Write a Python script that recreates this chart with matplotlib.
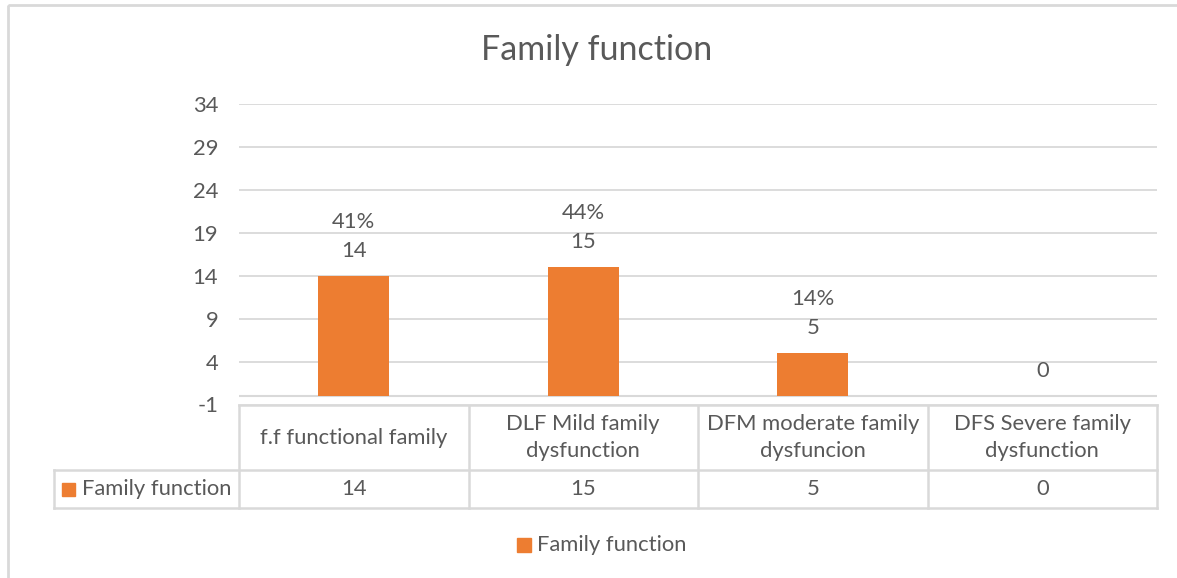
import matplotlib.pyplot as plt
import numpy as np
from matplotlib.patches import Rectangle

# chart data
categories = ["f.f functional family", "DLF Mild family\ndysfunction",
              "DFM moderate family\ndysfuncion", "DFS Severe family\ndysfunction"]
counts = [14, 15, 5, 0]
percent_labels = ["41%", "44%", "14%", ""]
series_name = "Family function"
chart_title = "Family function"
yticks = np.arange(-1, 35, 5)

# styling
orange = "#ED7D31"
grid_col = "#D9D9D9"
text_col = "#595959"
plt.rcParams['font.family'] = ['Lato', 'DejaVu Sans']
plt.rcParams['axes.unicode_minus'] = False
body_size = 15.8

W, H = 1177, 578
fig = plt.figure(figsize=(W / 100, H / 100), dpi=100)

# plot area in pixels
p_left, p_right = 239, 1157
p_top, p_bottom = 104, 404.5
ax = fig.add_axes([p_left / W, 1 - p_bottom / H,
                   (p_right - p_left) / W, (p_bottom - p_top) / H])

x = np.arange(len(categories))
ax.bar(x, counts, width=0.31, color=orange, zorder=3)
ax.set_xlim(-0.5, len(categories) - 0.5)
ax.set_ylim(yticks[0], yticks[-1])
ax.set_yticks(yticks)
ax.set_xticks([])
ax.grid(axis='y', color=grid_col, linewidth=1.3, zorder=0)
ax.axhline(0, color=grid_col, linewidth=1.5, zorder=2)
for s in ax.spines.values():
    s.set_visible(False)
ax.tick_params(axis='y', length=0, pad=15, labelsize=body_size, labelcolor=text_col)

# value and percentage labels above bars
for xi, c, p in zip(x, counts, percent_labels):
    ax.annotate(str(c), (xi, c), xytext=(0, 25), textcoords='offset pixels',
                ha='center', va='center', fontsize=body_size, color=text_col)
    if p:
        ax.annotate(p, (xi, c), xytext=(0, 54), textcoords='offset pixels',
                    ha='center', va='center', fontsize=body_size, color=text_col)

# overlay in pixel coords for the data table, legend, title and border
ov = fig.add_axes([0, 0, 1, 1], zorder=-1)
ov.set_xlim(0, W)
ov.set_ylim(H, 0)
ov.axis('off')

ov.add_patch(Rectangle((8, 5), W + 10, H + 10, fill=False, edgecolor=grid_col, linewidth=2))

ov.text(597, 50, chart_title, ha='center', va='center', fontsize=24.5, color=text_col)

col_edges = np.linspace(p_left, p_right, len(categories) + 1)
row_top, row_mid, row_bot = 405, 470, 508
head_left = 54
lw = 1.8
ov.plot([p_left, p_right], [row_top, row_top], color=grid_col, lw=lw)
ov.plot([head_left, p_right], [row_mid, row_mid], color=grid_col, lw=lw)
ov.plot([head_left, p_right], [row_bot, row_bot], color=grid_col, lw=lw)
for e in col_edges:
    ov.plot([e, e], [row_top, row_bot], color=grid_col, lw=lw)
ov.plot([head_left, head_left], [row_mid, row_bot], color=grid_col, lw=lw)

centers = (col_edges[:-1] + col_edges[1:]) / 2
for cx, cat, c in zip(centers, categories, counts):
    ov.text(cx, (row_top + row_mid) / 2, cat, ha='center', va='center',
            fontsize=body_size, color=text_col, linespacing=1.38)
    ov.text(cx, (row_mid + row_bot) / 2, str(c), ha='center', va='center',
            fontsize=body_size, color=text_col)

# row header with legend key
ov.add_patch(Rectangle((62, 483), 13, 13, color=orange))
ov.text(82, (row_mid + row_bot) / 2, series_name, ha='left', va='center',
        fontsize=body_size, color=text_col)

# legend below the table
ov.add_patch(Rectangle((517, 538), 14, 14, color=orange))
ov.text(537, 545, series_name, ha='left', va='center',
        fontsize=body_size, color=text_col)

fig.savefig("out.png", dpi=100)
